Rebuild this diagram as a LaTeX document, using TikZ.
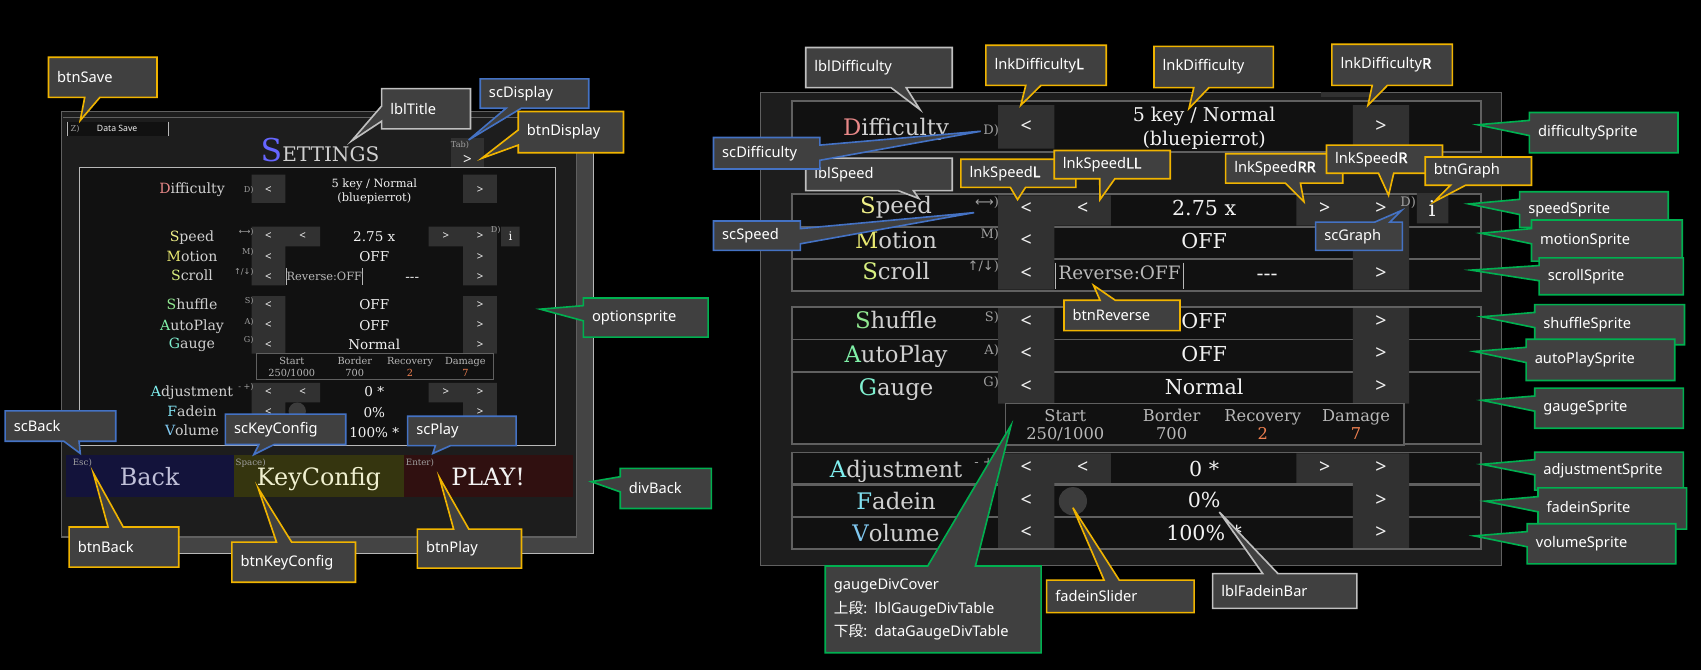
\documentclass[tikz,border=0pt]{standalone}
\usepackage{fontspec}
\setmainfont{DejaVu Serif}
\setsansfont{Noto Sans}
\newfontfamily\jpfont{Noto Sans CJK JP}
\newfontfamily\arrfont{DejaVu Sans}
\newcommand{\hb}[1]{{\addfontfeatures{FakeBold=2}#1}}
\usepackage{xcolor}
\usetikzlibrary{shapes.callouts}

\definecolor{panel}{HTML}{1D1D1D}
\definecolor{rowbg}{HTML}{111111}
\definecolor{rowline}{HTML}{606060}
\definecolor{btn}{HTML}{313131}
\definecolor{slider}{HTML}{3C3C3C}
\definecolor{divgray}{HTML}{444444}
\definecolor{labtxt}{HTML}{D0D0D0}
\definecolor{valtxt}{HTML}{F2F2F2}
\definecolor{hinttxt}{HTML}{A0A0A0}
\definecolor{tabtxt}{HTML}{B8B8B8}
\definecolor{cofill}{HTML}{404040}
\definecolor{coyel}{HTML}{F0B400}
\definecolor{coblu}{HTML}{4472C4}
\definecolor{cogrn}{HTML}{00B050}
\definecolor{cogry}{HTML}{BFBFBF}
\definecolor{cDif}{HTML}{E88888}
\definecolor{cSpd}{HTML}{F0F088}
\definecolor{cMot}{HTML}{E8E870}
\definecolor{cScr}{HTML}{D8F080}
\definecolor{cShu}{HTML}{90E890}
\definecolor{cAut}{HTML}{80F0A8}
\definecolor{cGau}{HTML}{80F0D0}
\definecolor{cAdj}{HTML}{80F0F0}
\definecolor{cFad}{HTML}{80E0F0}
\definecolor{cVol}{HTML}{80C8F0}
\definecolor{titleS}{HTML}{6666FF}
\definecolor{orng}{HTML}{F08050}
\definecolor{backbg}{HTML}{13133B}
\definecolor{keybg}{HTML}{35350F}
\definecolor{playbg}{HTML}{301010}
\definecolor{backtxt}{HTML}{C0C0D8}
\definecolor{keytxt}{HTML}{F0F0D0}

\begin{document}
\begin{tikzpicture}[x=1pt,y=-1pt]
\tikzstyle{txt}=[inner sep=0pt, anchor=base]
\tikzstyle{rlab}=[txt, text=labtxt, font=\fontsize{21}{24}\selectfont]
\tikzstyle{llab}=[txt, text=labtxt, font=\fontsize{13}{15}\selectfont]
\tikzstyle{rval}=[txt, text=valtxt, font=\fontsize{19}{22}\selectfont]
\tikzstyle{lval}=[txt, text=valtxt, font=\fontsize{12.5}{14}\selectfont]
\tikzstyle{rhint}=[txt, anchor=base east, text=hinttxt, font=\fontsize{12}{14}\selectfont]
\tikzstyle{lhint}=[txt, anchor=base east, text=hinttxt, font=\fontsize{7.5}{9}\selectfont]
\tikzstyle{rarr}=[inner sep=0pt, text=valtxt, font=\sffamily\fontsize{18}{20}\selectfont]
\tikzstyle{larr}=[inner sep=0pt, text=valtxt, font=\sffamily\fontsize{10.5}{12}\selectfont]
\tikzstyle{rtab}=[txt, text=tabtxt, font=\fontsize{15}{17}\selectfont]
\tikzstyle{ltab}=[txt, text=tabtxt, font=\fontsize{9}{10}\selectfont]
\tikzstyle{co}=[rectangle callout, draw=cogry, line width=1.5pt, fill=cofill, text=white,
  font=\sffamily\fontsize{13.5}{17}\selectfont, anchor=north west, inner xsep=8pt, inner ysep=0pt,
  callout pointer width=14pt]

\useasboundingbox (0,0) rectangle (1568,618);
\fill[black] (0,0) rectangle (1568,618);

% left screen
\draw[tabtxt, fill=divgray, line width=1pt] (70,108) rectangle (547,510);
\draw[rowline, fill=panel, line width=1pt] (57,103) rectangle (531,495);
\draw[rowline, line width=1pt] (58,108) -- (530,108);
\fill[rowbg] (61,112) rectangle (155,125);
\draw[tabtxt] (62,112) -- (62,125) (155,112) -- (155,125);
\node (zkey) [lhint, anchor=base west] at (65,121.5) {Z)};
\node (dsave) [txt, text=valtxt, font=\sffamily\fontsize{8}{9}\selectfont] at (108,121.5) {Data Save};
\node (title) [txt, text=labtxt] at (295,149) {\fontsize{29}{30}\selectfont\textcolor{titleS}{S}\fontsize{18.5}{20}\selectfont ETTINGS};
\fill[btn] (416,127) rectangle (446,158);
\node (tabk) [lhint, anchor=base] at (424,136) {Tab)};
\node (tabb) [inner sep=0pt, text=valtxt, font=\sffamily\bfseries\fontsize{14}{16}\selectfont] at (431,147) {>};
\draw[tabtxt, fill=rowbg] (73,154) rectangle (512,410);
\fill[btn] (232,161) rectangle (263,187) (427,161) rectangle (458,187)
  (232,209) rectangle (263,263) (427,209) rectangle (458,263)
  (263,209) rectangle (295,227) (395,209) rectangle (427,227)
  (462,209) rectangle (479,227)
  (232,273) rectangle (263,326) (427,273) rectangle (458,326)
  (232,353) rectangle (263,408) (427,353) rectangle (458,408)
  (263,353) rectangle (295,371) (395,353) rectangle (427,371);
\draw[tabtxt] (264,247) -- (264,263) (334,247) -- (334,263);
\draw[rowline, fill=rowbg] (236,326) rectangle (455,350);
\fill[slider] (274,379) circle[radius=8pt];
\fill[backbg] (61,419) rectangle (216,458);
\fill[keybg] (216,419) rectangle (372,458);
\fill[playbg] (372,419) rectangle (528,458);

% right screen
\draw[rowline, fill=panel, line width=1pt] (701,85) rectangle (1384,521);
\fill[btn] (1218,85) rectangle (1268,89);
\foreach \t/\b in {93/140,179/209,209/239,239/268,283/313,313/343,343/409,417/446,447/476,477/506}
  \draw[rowline, fill=rowbg, line width=1.5pt] (730,\t) rectangle (1365,\b);
\fill[btn] (920,97) rectangle (972,137) (1247,97) rectangle (1299,137)
  (920,180) rectangle (972,267) (1247,180) rectangle (1299,267)
  (972,180) rectangle (1024,208) (1195,180) rectangle (1247,208)
  (1306,178) rectangle (1335,206)
  (920,284) rectangle (972,372) (1247,284) rectangle (1299,372)
  (920,418) rectangle (972,505) (1247,418) rectangle (1299,505)
  (972,418) rectangle (1024,445) (1195,418) rectangle (1247,445);
\draw[tabtxt, line width=1.2pt] (973,242) -- (973,266) (1091,242) -- (1091,266);
\draw[rowline, fill=rowbg, line width=1.5pt] (927,372) rectangle (1294,410);
\fill[slider] (989,462) circle[radius=13pt];

\foreach \n/\y/\Y/\c/\f/\r in {dif/178.7/125/cDif/D/ifficulty, spd/222.7/197/cSpd/S/peed,
  mot/240.7/229/cMot/M/otion, scr/258.7/258/cScr/S/croll, shu/285.7/303/cShu/S/huffle,
  aut/304.5/334/cAut/A/utoPlay, gau/321.7/364.5/cGau/G/auge, adj/365.7/440/cAdj/A/djustment,
  fad/384/470/cFad/F/adein, vol/401.7/499/cVol/V/olume}{
  \node (L\n) [llab] at (177,\y) {\textcolor{\c}{\f}\r};
  \node (R\n) [rlab] at (826,\Y) {\textcolor{\c}{\f}\r};
}
\foreach \n/\y/\Y in {dif/175/117, spd/218/192, mot/236.5/222, scr/255/252, shu/281/296,
  aut/300/326, gau/318/356, adj/361/431, fad/380/461, vol/398.5/491}{
  \node (Ll\n) [larr] at (247.5,\y) {<};
  \node (Lr\n) [larr] at (442.5,\y) {>};
  \node (Rl\n) [rarr] at (946,\Y) {<};
  \node (Rr\n) [rarr] at (1273,\Y) {>};
}
\foreach \n/\y/\Y in {spd/218/192, adj/361/431}{
  \node (LL\n) [larr] at (279,\y) {<};
  \node (LR\n) [larr] at (411,\y) {>};
  \node (RL\n) [rarr] at (998,\Y) {<};
  \node (RR\n) [rarr] at (1221,\Y) {>};
}
\foreach \n/\y/\Y/\v in {spd/222.5/199/2.75 x, mot/241/229/OFF, shu/285.5/303/OFF, aut/304.5/333/OFF,
  gau/322.5/364/Normal, adj/365.5/439/0 *, fad/384.5/468/0\%, vol/403/498/100\% *}{
  \node (Lv\n) [lval] at (345,\y) {\v};
  \node (Rv\n) [rval] at (1110,\Y) {\v};
}
\foreach \n/\y/\Y/\k in {dif/177/124/D), spd/216/190/{{\arrfont ⟷})}, mot/235/220/M),
  scr/253/249/{{\arrfont ↑/↓})}, shu/280/296/S), aut/299/327/A), gau/316/356/G), adj/359/430/- +)}{
  \node (Lk\n) [lhint] at (234,\y) {\k};
  \node (Rk\n) [rhint] at (921,\Y) {\k};
}
\foreach \n/\x/\X/\h/\v in {st/269/982/Start/{250/1000}, bo/327/1080/Border/700,
  re/378/1164/Recovery/\textcolor{orng}{2}, da/429/1250/Damage/\textcolor{orng}{7}}{
  \node (Lgh\n) [ltab] at (\x,336.3) {\h};
  \node (Lgv\n) [ltab] at (\x,347.3) {\v};
  \node (Rgh\n) [rtab] at (\X,388.5) {\h};
  \node (Rgv\n) [rtab] at (\X,405.5) {\v};
}
\node (Lvdif) [inner sep=0pt, align=center, text=valtxt, font=\fontsize{10.5}{13}\selectfont] at (345,176) {5 key / Normal\\(bluepierrot)};
\node (Rvdif) [inner sep=0pt, align=center, text=valtxt, font=\fontsize{17.5}{22}\selectfont] at (1110,118.5) {5 key / Normal\\(bluepierrot)};
\node (Lrev) [txt, text=tabtxt, font=\fontsize{10.5}{12}\selectfont] at (299,259) {Reverse:OFF};
\node (Lvscr) [lval] at (380,259.5) {-{}-{}-};
\node (Rrev) [txt, text=tabtxt, font=\fontsize{17}{19}\selectfont] at (1032,258) {Reverse:OFF};
\node (Rvscr) [rval] at (1168,259) {-{}-{}-};
\node (Lkg) [lhint, anchor=base] at (457,214.5) {D)};
\node (Rkg) [rhint, anchor=base] at (1298,190) {D)};
\node (Li) [inner sep=0pt, text=valtxt, font=\fontsize{11}{12}\selectfont] at (470.5,218) {i};
\node (Ri) [inner sep=0pt, text=valtxt, font=\fontsize{20}{22}\selectfont] at (1320,192) {i};
\foreach \n/\x/\k/\kx/\t/\c in {back/138/Esc)/67/Back/backtxt, key/294/Space)/217/KeyConfig/keytxt,
  play/450/Enter)/374/PLAY!/valtxt}{
  \node (b\n) [txt, text=\c, font=\fontsize{22}{24}\selectfont] at (\x,447.5) {\t};
  \node (k\n) [lhint, anchor=base west, font=\fontsize{8}{9}\selectfont] at (\kx,429) {\k};
}

% callouts
\foreach \n/\x/\y in {Save/74/111, Title/324/130, ScDisp/432/129, BtnDisp/444/146, Opt/498/285,
  DivBack/545/444, ScBack/74/418, ScKey/234/419, ScPlay/399/418, BtnBack/86/436, BtnKey/238/450,
  BtnPlay/405/440, LblDif/848/101, LnkDifL/941/97, LnkDif/1096/100, LnkDifR/1261/97,
  DifSpr/1362/115, LblSpd/847/183, ScDif/904/121, ScSpd/898/196, LnkSpdL/938/184,
  LnkSpdLL/1014/184, LnkSpdRR/1202/186, LnkSpdR/1280/180, BtnGraph/1322/186, ScGraph/1292/194,
  SpdSpr/1354/188, MotSpr/1365/215, ScrSpr/1356/249, BtnRev/1008/263, ShuSpr/1366/292,
  AutSpr/1359/324, GauSpr/1366/369, AdjSpr/1366/428, FadSpr/1369/462, VolSpr/1359/494,
  FadSld/989/468, LblFad/1124/472, Gauge/932/392}
  \coordinate (t\n) at (\x,\y);
\foreach \n/\c/\x/\y/\w/\h/\t in {Save/coyel/44/52/84/37/btnSave, Title/cogry/351/81/66/37/lblTitle,
  ScDisp/coblu/442/72/84/27/scDisplay, BtnDisp/coyel/477/102/81/38/btnDisplay,
  Opt/cogrn/537/274/99/36/optionsprite, DivBack/cogrn/571/431/68/37/divBack,
  ScBack/coblu/4/378/86/28/scBack, ScKey/coblu/207/381/95/28/scKeyConfig,
  ScPlay/coblu/375/383/84/27/scPlay, BtnBack/coyel/63/485/85/37/btnBack,
  BtnKey/coyel/213/499/98/37/btnKeyConfig, BtnPlay/coyel/384/487/80/36/btnPlay,
  LblDif/cogry/742/43/119/37/lblDifficulty, LnkDifL/coyel/908/41/95/37/lnkDifficulty\hb{L},
  LnkDif/coyel/1063/42/94/38/lnkDifficulty, LnkDifR/coyel/1227/40/95/38/lnkDifficulty\hb{R},
  DifSpr/cogrn/1409/103/121/37/difficultySprite, LblSpd/cogry/742/145/119/30/lblSpeed,
  ScDif/coblu/657/126/82/29/scDifficulty, ScSpd/coblu/657/203/64/27/scSpeed,
  LnkSpdL/coyel/885/146/90/26/lnkSpeed\hb{L}, LnkSpdLL/coyel/971/138/91/26/lnkSpeed\hb{LL},
  LnkSpdRR/coyel/1129/141/92/27/lnkSpeed\hb{RR}, LnkSpdR/coyel/1222/133/91/26/lnkSpeed\hb{R},
  BtnGraph/coyel/1313/144/82/26/btnGraph, ScGraph/coblu/1212/204/64/26/scGraph,
  SpdSpr/cogrn/1400/176/121/33/speedSprite, MotSpr/cogrn/1411/202/123/38/motionSprite,
  ScrSpr/cogrn/1418/237/117/34/scrollSprite, BtnRev/coyel/980/276/91/28/btnReverse,
  ShuSpr/cogrn/1414/280/122/37/shuffleSprite, AutSpr/cogrn/1406/312/121/38/autoPlaySprite,
  GauSpr/cogrn/1414/357/121/37/gaugeSprite, AdjSpr/cogrn/1414/416/121/35/adjustmentSprite,
  FadSpr/cogrn/1417/449/121/38/fadeinSprite, VolSpr/cogrn/1407/482/121/37/volumeSprite,
  FadSld/coyel/964/534/120/30/fadeinSlider, LblFad/cogry/1117/528/117/32/lblFadeinBar}
  \node (c\n) [co, draw=\c, minimum height=\h pt, callout absolute pointer={(t\n)}] at (\x,\y) {\makebox[\w pt][l]{\t}};
\node (cGauge) [co, draw=cogrn, minimum height=80pt, text width=183pt, align=left,
  font=\sffamily\fontsize{13.5}{22}\selectfont, callout pointer width=44pt,
  callout absolute pointer={(tGauge)}] at (760,521)
  {gaugeDivCover\\{\jpfont 上段}: lblGaugeDivTable\\{\jpfont 下段}: dataGaugeDivTable};
\end{tikzpicture}
\end{document}
